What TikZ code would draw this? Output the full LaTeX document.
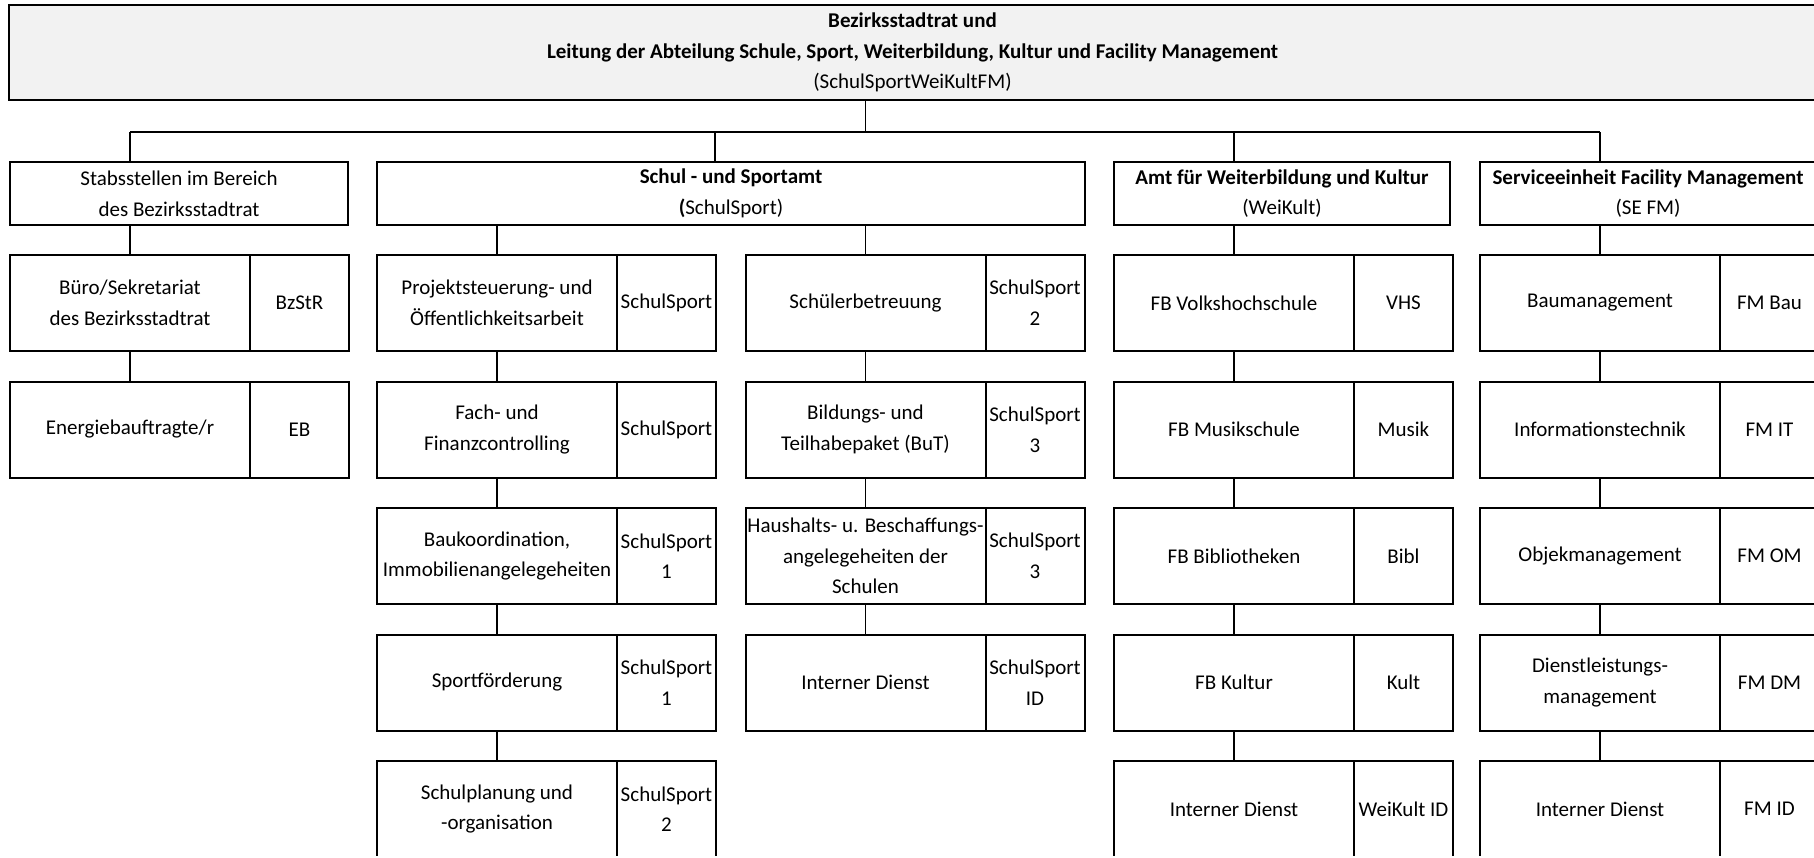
\documentclass[tikz,border=0pt]{standalone}
\usepackage{fontspec}
\setmainfont{Carlito}
\usetikzlibrary{positioning}
\definecolor{kopfgrau}{HTML}{F2F2F2}
\tikzset{
  einheit/.style={draw=black, line width=1pt, inner sep=0pt, outer sep=0pt, align=center, text=black, font={\fontsize{10.5pt}{15.3pt}\selectfont}},
  kopf/.style={einheit, fill=kopfgrau, minimum width=903.5pt, minimum height=47.5pt, anchor=north west},
  amt/.style={einheit, minimum height=31.5pt, anchor=north west},
  aufgabe/.style={einheit, minimum width=120pt, minimum height=48pt, anchor=north west},
  kuerzel/.style={einheit, minimum width=49.5pt, minimum height=48pt},
  linie/.style={draw=black, line width=0.75pt}
}
\begin{document}
\begin{tikzpicture}[x=0.5pt, y=-0.5pt]
\useasboundingbox (0,0) rectangle (1814,857);
\clip (0,0) rectangle (1814,855);

% Leitung
\node[kopf] (bzst) at (9,5) {\textbf{Bezirksstadtrat und}\\\textbf{Leitung der Abteilung Schule, Sport, Weiterbildung, Kultur und Facility Management}\\(SchulSportWeiKultFM)};

% Aemter
\node[amt, minimum width=169pt] (stab) at (10,162) {Stabsstellen im Bereich\\des Bezirksstadtrat};
\node[amt, minimum width=354pt] (amt) at (377,162) {\textbf{Schul - und Sportamt}\\\textbf{(}SchulSport)};
\node[amt, minimum width=168pt] (wk) at (1114,162) {\textbf{Amt für Weiterbildung und Kultur}\\(WeiKult)};
\node[amt, minimum width=168pt] (fm) at (1480,162) {\textbf{Serviceeinheit Facility Management}\\(SE FM)};

% Stabsstellen
\node[aufgabe] (stab_1) at (10,255) {Büro/Sekretariat\\des Bezirksstadtrat};
\node[kuerzel, right=0pt of stab_1] (stab_1k) {BzStR};
\node[aufgabe] (stab_2) at (10,381.5) {Energiebauftragte/r};
\node[kuerzel, right=0pt of stab_2] (stab_2k) {EB};

% Schul- und Sportamt, linke Spalte
\node[aufgabe] (amt_l1) at (377,255) {Projektsteuerung- und\\Öffentlichkeitsarbeit};
\node[kuerzel, right=0pt of amt_l1] (amt_l1k) {SchulSport};
\node[aufgabe] (amt_l2) at (377,381.5) {Fach- und\\Finanzcontrolling};
\node[kuerzel, right=0pt of amt_l2] (amt_l2k) {SchulSport};
\node[aufgabe] (amt_l3) at (377,508) {Baukoordination,\\Immobilienangelegeheiten};
\node[kuerzel, right=0pt of amt_l3] (amt_l3k) {SchulSport\\1};
\node[aufgabe] (amt_l4) at (377,634.5) {Sportförderung};
\node[kuerzel, right=0pt of amt_l4] (amt_l4k) {SchulSport\\1};
\node[aufgabe] (amt_l5) at (377,761) {Schulplanung und\\-organisation};
\node[kuerzel, right=0pt of amt_l5] (amt_l5k) {SchulSport\\2};

% Schul- und Sportamt, rechte Spalte
\node[aufgabe] (amt_r1) at (745.5,255) {Schülerbetreuung};
\node[kuerzel, right=0pt of amt_r1] (amt_r1k) {SchulSport\\2};
\node[aufgabe] (amt_r2) at (745.5,381.5) {Bildungs- und\\Teilhabepaket (BuT)};
\node[kuerzel, right=0pt of amt_r2] (amt_r2k) {SchulSport\\3};
\node[aufgabe] (amt_r3) at (745.5,508) {Haushalts- u. Beschaffungs-\\angelegeheiten der\\Schulen};
\node[kuerzel, right=0pt of amt_r3] (amt_r3k) {SchulSport\\3};
\node[aufgabe] (amt_r4) at (745.5,634.5) {Interner Dienst};
\node[kuerzel, right=0pt of amt_r4] (amt_r4k) {SchulSport\\ID};

% Weiterbildung und Kultur
\node[aufgabe] (wk_1) at (1114,255) {FB Volkshochschule};
\node[kuerzel, right=0pt of wk_1] (wk_1k) {VHS};
\node[aufgabe] (wk_2) at (1114,381.5) {FB Musikschule};
\node[kuerzel, right=0pt of wk_2] (wk_2k) {Musik};
\node[aufgabe] (wk_3) at (1114,508) {FB Bibliotheken};
\node[kuerzel, right=0pt of wk_3] (wk_3k) {Bibl};
\node[aufgabe] (wk_4) at (1114,634.5) {FB Kultur};
\node[kuerzel, right=0pt of wk_4] (wk_4k) {Kult};
\node[aufgabe] (wk_5) at (1114,761) {Interner Dienst};
\node[kuerzel, right=0pt of wk_5] (wk_5k) {WeiKult ID};

% Facility Management
\node[aufgabe] (fm_1) at (1480,255) {Baumanagement};
\node[kuerzel, right=0pt of fm_1] (fm_1k) {FM Bau};
\node[aufgabe] (fm_2) at (1480,381.5) {Informationstechnik};
\node[kuerzel, right=0pt of fm_2] (fm_2k) {FM IT};
\node[aufgabe] (fm_3) at (1480,508) {Objekmanagement};
\node[kuerzel, right=0pt of fm_3] (fm_3k) {FM OM};
\node[aufgabe] (fm_4) at (1480,634.5) {Dienstleistungs-\\management};
\node[kuerzel, right=0pt of fm_4] (fm_4k) {FM DM};
\node[aufgabe] (fm_5) at (1480,761) {Interner Dienst};
\node[kuerzel, right=0pt of fm_5] (fm_5k) {FM ID};

% Verbindungen
\coordinate (bus) at (0,132);
\coordinate (amt_in) at (715,132);
\draw[linie] (bzst.south -| amt_r1) -- (amt_r1 |- bus);
\draw[linie] (stab_1 |- bus) -- (fm_1 |- bus);
\draw[linie] (stab_1 |- bus) -- (stab.north -| stab_1);
\draw[linie] (amt_in) -- (amt.north -| amt_in);
\draw[linie] (wk_1 |- bus) -- (wk.north -| wk_1);
\draw[linie] (fm_1 |- bus) -- (fm.north -| fm_1);

\draw[linie] (stab.south -| stab_1) -- (stab_1.north);
\draw[linie] (amt.south -| amt_l1) -- (amt_l1.north);
\draw[linie] (amt.south -| amt_r1) -- (amt_r1.north);
\draw[linie] (wk.south -| wk_1) -- (wk_1.north);
\draw[linie] (fm.south -| fm_1) -- (fm_1.north);

\draw[linie] (stab_1.south) -- (stab_2.north);
\draw[linie] (amt_l1.south) -- (amt_l2.north);
\draw[linie] (amt_l2.south) -- (amt_l3.north);
\draw[linie] (amt_l3.south) -- (amt_l4.north);
\draw[linie] (amt_l4.south) -- (amt_l5.north);
\draw[linie] (amt_r1.south) -- (amt_r2.north);
\draw[linie] (amt_r2.south) -- (amt_r3.north);
\draw[linie] (amt_r3.south) -- (amt_r4.north);
\draw[linie] (wk_1.south) -- (wk_2.north);
\draw[linie] (wk_2.south) -- (wk_3.north);
\draw[linie] (wk_3.south) -- (wk_4.north);
\draw[linie] (wk_4.south) -- (wk_5.north);
\draw[linie] (fm_1.south) -- (fm_2.north);
\draw[linie] (fm_2.south) -- (fm_3.north);
\draw[linie] (fm_3.south) -- (fm_4.north);
\draw[linie] (fm_4.south) -- (fm_5.north);
\end{tikzpicture}
\end{document}
